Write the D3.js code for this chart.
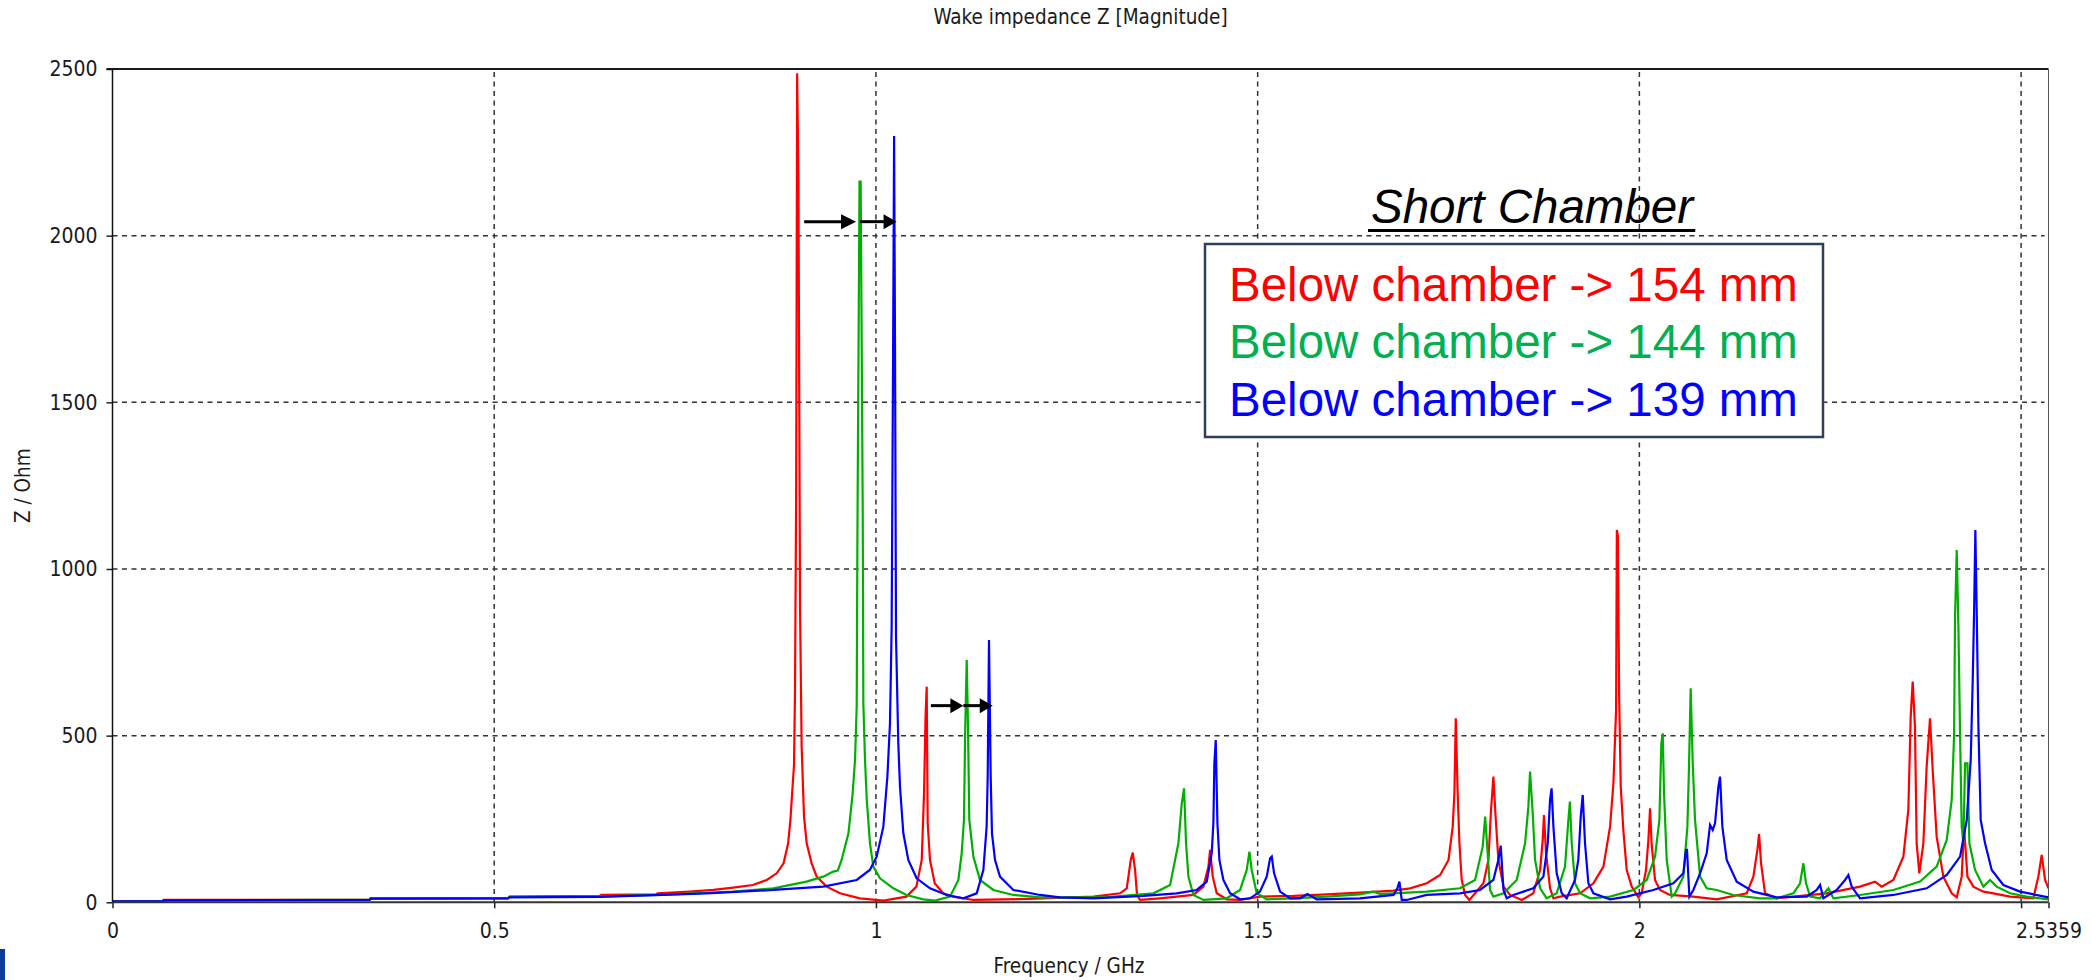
<!DOCTYPE html>
<html>
<head>
<meta charset="utf-8">
<title>Wake impedance Z [Magnitude]</title>
<script src="https://cdn.jsdelivr.net/npm/d3@7.9.0/dist/d3.min.js"></script>
<style>
  html, body { margin: 0; padding: 0; background: #fff; }
  svg { display: block; }
  .tick text, .lbl { font-family: "DejaVu Sans Condensed", "DejaVu Sans", sans-serif; font-size: 21px; fill: #1a1a1a; }
  .lbl.title { font-size: 20.5px; }
  .legend text { font-family: "Liberation Sans", Arial, sans-serif; font-size: 47.5px; }
</style>
</head>
<body>
<svg id="chart" width="2091" height="980"></svg>
<script>
// x ticks (GHz) and y ticks (Ohm)
const xTicks = [0, 0.5, 1, 1.5, 2, 2.5, 2.5359];
const xTickLabels = ['0', '0.5', '1', '1.5', '2', '', '2.5359'];
const yTicks = [0, 500, 1000, 1500, 2000, 2500];

// series: [frequency GHz, |Z| Ohm]
const red154 = [
  [0, 3], [0.066, 3], [0.067, 7], [0.337, 8], [0.338, 12], [0.518, 13], [0.52, 17], [0.638, 19], [0.64, 22],
  [0.712, 24], [0.714, 27], [0.756, 32], [0.787, 37], [0.813, 44], [0.839, 52], [0.857, 67], [0.870, 87],
  [0.879, 117], [0.885, 177], [0.888, 247], [0.8905, 337], [0.8927, 412], [0.894, 637], [0.8955, 1222],
  [0.8968, 2487], [0.8985, 2162], [0.9006, 877], [0.9027, 467], [0.9058, 257], [0.9093, 177], [0.9158, 117],
  [0.9224, 77], [0.9355, 47], [0.953, 27], [0.979, 12], [1.010, 5], [1.040, 17], [1.053, 47], [1.060, 127],
  [1.063, 327], [1.065, 557], [1.0665, 647], [1.0678, 237], [1.0708, 127], [1.077, 57], [1.088, 27],
  [1.101, 17], [1.128, 7], [1.2, 10], [1.285, 17], [1.3198, 27], [1.3285, 42], [1.3338, 127], [1.3364, 149],
  [1.3394, 97], [1.342, 22], [1.346, 7], [1.372, 12], [1.4158, 22], [1.429, 47], [1.4355, 107], [1.4377, 157],
  [1.4412, 77], [1.4464, 27], [1.4595, 9], [1.477, 7], [1.503, 17], [1.547, 19], [1.5905, 24], [1.634, 29],
  [1.678, 35], [1.6996, 42], [1.7215, 57], [1.739, 82], [1.75, 127], [1.7555, 227], [1.7577, 327],
  [1.7595, 552], [1.762, 327], [1.7643, 177], [1.7673, 67], [1.7717, 22], [1.7774, 7], [1.7848, 27],
  [1.7957, 57], [1.8023, 127], [1.8057, 277], [1.8088, 377], [1.8114, 267], [1.8153, 127], [1.822, 47],
  [1.8306, 22], [1.846, 7], [1.861, 27], [1.870, 97], [1.8734, 187], [1.875, 262], [1.8778, 147], [1.883, 42],
  [1.8874, 12], [1.8961, 17], [1.9223, 27], [1.9398, 57], [1.9529, 107], [1.9616, 227], [1.966, 357],
  [1.9695, 577], [1.9705, 1117], [1.9718, 1100], [1.9735, 617], [1.9756, 347], [1.979, 217], [1.9834, 97],
  [1.99, 47], [1.9987, 15], [2.003, 27], [2.0087, 97], [2.0118, 187], [2.014, 282], [2.016, 177], [2.0205, 67],
  [2.027, 37], [2.04, 22], [2.0707, 17], [2.1013, 9], [2.1406, 27], [2.1493, 77], [2.1546, 157], [2.1568, 205],
  [2.1594, 117], [2.1646, 27], [2.1799, 12], [2.2454, 27], [2.289, 47], [2.3087, 62], [2.3174, 47],
  [2.3327, 67], [2.3458, 137], [2.3523, 277], [2.3554, 557], [2.358, 662], [2.361, 527], [2.3632, 177],
  [2.3667, 87], [2.372, 177], [2.3763, 407], [2.3807, 552], [2.3842, 397], [2.3894, 197], [2.3982, 77],
  [2.4091, 27], [2.4157, 15], [2.4222, 77], [2.4253, 227], [2.4297, 77], [2.4375, 47], [2.4506, 32],
  [2.4637, 27], [2.4855, 17], [2.516, 12], [2.5226, 77], [2.527, 142], [2.5314, 67], [2.5359, 42]
];

const green144 = [
  [0, 3], [0.066, 3], [0.067, 6], [0.337, 8], [0.338, 11], [0.518, 12], [0.52, 16], [0.64, 18], [0.72, 22],
  [0.813, 32], [0.8656, 42], [0.909, 62], [0.931, 77], [0.944, 92], [0.950, 95], [0.955, 127], [0.964, 207],
  [0.9695, 327], [0.9726, 427], [0.9748, 587], [0.9757, 1082], [0.9785, 2162], [0.980, 2162], [0.9827, 1172],
  [0.9835, 597], [0.9857, 427], [0.988, 307], [0.9922, 177], [0.9966, 107], [1.0053, 72], [1.0228, 42],
  [1.040, 22], [1.062, 9], [1.0774, 5], [1.097, 17], [1.108, 67], [1.1123, 147], [1.1153, 247], [1.117, 527],
  [1.1189, 727], [1.1206, 527], [1.1223, 247], [1.1276, 137], [1.1363, 67], [1.1538, 37], [1.18, 22],
  [1.215, 15], [1.30, 15], [1.3635, 27], [1.3853, 52], [1.3962, 177], [1.4006, 297], [1.4036, 342],
  [1.4062, 177], [1.4093, 77], [1.4158, 22], [1.429, 7], [1.4595, 12], [1.477, 37], [1.4857, 97],
  [1.4892, 152], [1.4922, 97], [1.4988, 27], [1.512, 9], [1.547, 12], [1.5905, 17], [1.634, 24], [1.6516, 32],
  [1.66, 25], [1.678, 27], [1.7215, 32], [1.765, 42], [1.7848, 67], [1.7948, 167], [1.798, 257], [1.801, 157],
  [1.8044, 37], [1.8088, 17], [1.822, 27], [1.8393, 67], [1.8503, 177], [1.8546, 287], [1.8568, 392],
  [1.8603, 267], [1.8634, 127], [1.870, 42], [1.8786, 12], [1.8917, 27], [1.9026, 107], [1.907, 247],
  [1.909, 302], [1.9114, 177], [1.9157, 57], [1.9223, 27], [1.9354, 12], [1.9616, 17], [1.9922, 37],
  [2.0096, 67], [2.0205, 137], [2.0262, 247], [2.0288, 477], [2.0306, 507], [2.0323, 327], [2.0358, 127],
  [2.0424, 17], [2.0467, 27], [2.0576, 77], [2.0629, 227], [2.065, 407], [2.0672, 642], [2.0699, 417],
  [2.0729, 247], [2.0795, 77], [2.0882, 42], [2.1013, 37], [2.1231, 22], [2.158, 12], [2.1799, 12],
  [2.2017, 27], [2.2105, 57], [2.2148, 117], [2.2183, 57], [2.2236, 17], [2.2367, 12], [2.2476, 42],
  [2.2541, 12], [2.289, 22], [2.3327, 37], [2.3676, 62], [2.3894, 107], [2.4026, 187], [2.4091, 307],
  [2.4122, 497], [2.4135, 857], [2.4157, 1057], [2.4179, 827], [2.4201, 497], [2.4222, 227], [2.4244, 177],
  [2.4266, 417], [2.4297, 417], [2.4323, 177], [2.4397, 97], [2.4506, 47], [2.4593, 67], [2.468, 47],
  [2.4855, 27], [2.5073, 17], [2.5359, 9]
];

const blue139 = [
  [0, 3], [0.066, 3], [0.067, 6], [0.337, 7], [0.338, 11], [0.518, 12], [0.52, 15], [0.64, 16], [0.778, 27],
  [0.8656, 37], [0.931, 47], [0.9748, 67], [0.992, 97], [1.001, 137], [1.0097, 227], [1.015, 377],
  [1.0184, 537], [1.0206, 827], [1.0225, 1662], [1.0238, 2299], [1.0250, 1662], [1.0263, 797], [1.0293, 477],
  [1.0315, 347], [1.0359, 207], [1.0424, 127], [1.0533, 72], [1.0708, 42], [1.0927, 22], [1.1145, 12],
  [1.132, 27], [1.1407, 97], [1.145, 227], [1.1464, 377], [1.1481, 787], [1.1503, 377], [1.152, 207],
  [1.156, 127], [1.1625, 77], [1.18, 37], [1.215, 22], [1.241, 15], [1.285, 12], [1.3504, 19], [1.394, 27],
  [1.4202, 37], [1.4333, 62], [1.4398, 147], [1.442, 237], [1.4433, 417], [1.4451, 487], [1.4473, 237],
  [1.4499, 127], [1.4551, 67], [1.4639, 27], [1.477, 9], [1.4901, 12], [1.503, 32], [1.5119, 77],
  [1.5163, 132], [1.5185, 137], [1.5215, 87], [1.5294, 32], [1.5425, 12], [1.5555, 12], [1.5652, 25],
  [1.5774, 9], [1.634, 12], [1.678, 22], [1.683, 42], [1.6857, 62], [1.6887, 7], [1.6953, 7], [1.7215, 22],
  [1.765, 27], [1.7913, 37], [1.8088, 67], [1.8153, 127], [1.8184, 170], [1.822, 37], [1.8262, 12],
  [1.835, 22], [1.861, 42], [1.8743, 77], [1.88, 177], [1.883, 307], [1.885, 342], [1.8874, 227],
  [1.8917, 87], [1.8983, 27], [1.9048, 12], [1.9157, 67], [1.920, 127], [1.9232, 257], [1.9258, 322],
  [1.9288, 177], [1.9332, 57], [1.9398, 27], [1.9616, 9], [1.9834, 17], [2.0183, 37], [2.0445, 57],
  [2.0576, 87], [2.0611, 157], [2.0624, 157], [2.0655, 17], [2.0707, 37], [2.0795, 87], [2.0882, 147],
  [2.0926, 232], [2.0961, 217], [2.0991, 237], [2.1035, 347], [2.1057, 377], [2.1087, 227], [2.1144, 127],
  [2.1275, 62], [2.1493, 32], [2.1799, 15], [2.2192, 17], [2.2323, 37], [2.2367, 52], [2.2410, 12],
  [2.2585, 37], [2.2694, 67], [2.2738, 82], [2.2781, 47], [2.289, 12], [2.3327, 22], [2.3763, 42],
  [2.4026, 82], [2.4201, 137], [2.4288, 247], [2.434, 427], [2.4366, 662], [2.4384, 867], [2.4401, 1117],
  [2.4419, 867], [2.4441, 527], [2.4471, 247], [2.4528, 177], [2.4615, 97], [2.4768, 52], [2.4986, 32],
  [2.5359, 15]
];

const seriesNames = ['Below chamber -> 154 mm', 'Below chamber -> 144 mm', 'Below chamber -> 139 mm'];
const lineColors = ['#ff0000', '#00b000', '#0000ff'];
const textColors = ['#ff0000', '#00b050', '#0000ff'];

// shift arrows: [from GHz, to GHz, at Ohm]
const arrows = [
  [0.906, 0.974, 2042], [0.979, 1.027, 2042],
  [1.072, 1.1145, 590], [1.1145, 1.153, 590]
];

const svg = d3.select('#chart');
const plotLeft = 112.5, plotRight = 2048.5, plotTop = 69, plotBottom = 902.3;

const x = d3.scaleLinear().domain([0, 2.5359]).range([plotLeft, plotRight]);
const y = d3.scaleLinear().domain([0, 2500]).range([plotBottom, plotTop]);

// grid
const dash = '5,4.5';
svg.append('g')
  .selectAll('line')
  .data(xTicks.filter(d => d > 0 && d < 2.53))
  .join('line')
  .attr('x1', d => x(d)).attr('x2', d => x(d))
  .attr('y1', plotTop + 3).attr('y2', plotBottom)
  .attr('stroke', '#333').attr('stroke-width', 1.5).attr('stroke-dasharray', dash);

svg.append('g')
  .selectAll('line')
  .data(yTicks.filter(d => d > 0 && d < 2500))
  .join('line')
  .attr('x1', plotLeft).attr('x2', plotRight - 4)
  .attr('y1', d => y(d)).attr('y2', d => y(d))
  .attr('stroke', '#333').attr('stroke-width', 1.5).attr('stroke-dasharray', dash);

// axes
const xAxis = d3.axisBottom(x)
  .tickValues(xTicks)
  .tickFormat((d, i) => xTickLabels[i])
  .tickSize(6)
  .tickPadding(15);
const gx = svg.append('g').attr('transform', `translate(0,${plotBottom})`).call(xAxis);

const yAxis = d3.axisLeft(y).tickValues(yTicks).tickFormat(d3.format('d')).tickSize(6).tickPadding(9);
const gy = svg.append('g').attr('transform', `translate(${plotLeft},0)`).call(yAxis);

[gx, gy].forEach(g => {
  g.select('.domain').remove();
  g.selectAll('.tick line').attr('stroke', '#222').attr('stroke-width', 1.5);
  g.selectAll('.tick text').attr('fill', '#1a1a1a');
});

// curves
svg.append('clipPath').attr('id', 'plot-clip')
  .append('rect').attr('x', plotLeft).attr('y', plotTop)
  .attr('width', plotRight - plotLeft).attr('height', plotBottom - plotTop);

const line = d3.line().x(d => x(d[0])).y(d => y(d[1]));
const curves = svg.append('g').attr('clip-path', 'url(#plot-clip)');
[red154, green144, blue139].forEach((s, i) => {
  curves.append('path')
    .datum(s)
    .attr('d', line)
    .attr('fill', 'none')
    .attr('stroke', lineColors[i])
    .attr('stroke-width', 2.2)
    .attr('stroke-linejoin', 'miter');
});

// frame
svg.append('line').attr('x1', plotLeft - 6).attr('x2', plotRight).attr('y1', plotTop).attr('y2', plotTop)
  .attr('stroke', '#1a1a1a').attr('stroke-width', 2);
svg.append('line').attr('x1', plotLeft).attr('x2', plotLeft).attr('y1', plotTop).attr('y2', plotBottom)
  .attr('stroke', '#111').attr('stroke-width', 1.5);
svg.append('line').attr('x1', plotLeft).attr('x2', plotRight).attr('y1', plotBottom).attr('y2', plotBottom)
  .attr('stroke', '#333').attr('stroke-width', 2);
svg.append('line').attr('x1', plotRight).attr('x2', plotRight).attr('y1', plotTop).attr('y2', plotBottom)
  .attr('stroke', '#555').attr('stroke-width', 1);

// titles
svg.append('text').attr('class', 'lbl title')
  .attr('x', (plotLeft + plotRight) / 2).attr('y', 24).attr('text-anchor', 'middle')
  .text('Wake impedance Z [Magnitude]');
svg.append('text').attr('class', 'lbl title')
  .attr('x', 1069).attr('y', 973).attr('text-anchor', 'middle')
  .text('Frequency / GHz');
svg.append('text').attr('class', 'lbl title')
  .attr('transform', `translate(30,${(plotTop + plotBottom) / 2}) rotate(-90)`)
  .attr('text-anchor', 'middle')
  .text('Z / Ohm');

// arrows
const arrowG = svg.append('g');
arrows.forEach(a => {
  const x0 = x(a[0]), x1 = x(a[1]), yy = y(a[2]);
  const len = x1 - x0 > 40 ? 15 : 13;
  arrowG.append('line')
    .attr('x1', x0).attr('x2', x1 - len + 1).attr('y1', yy).attr('y2', yy)
    .attr('stroke', '#000').attr('stroke-width', 3);
  arrowG.append('path')
    .attr('d', `M${x1},${yy} L${x1 - len},${yy - 7.5} L${x1 - len},${yy + 7.5} Z`)
    .attr('fill', '#000');
});

// legend
const legend = svg.append('g').attr('class', 'legend');
const heading = legend.append('text')
  .attr('x', 1371).attr('y', 222.7)
  .attr('font-style', 'italic')
  .attr('fill', '#000')
  .text('Short Chamber');
const hb = heading.node().getBBox();
legend.append('line')
  .attr('x1', hb.x - 3).attr('x2', hb.x + hb.width)
  .attr('y1', 230.5).attr('y2', 230.5)
  .attr('stroke', '#000').attr('stroke-width', 3);

legend.append('rect')
  .attr('x', 1205).attr('y', 244).attr('width', 618).attr('height', 193)
  .attr('fill', '#fff').attr('stroke', '#2e4057').attr('stroke-width', 2.5);

legend.selectAll('text.item')
  .data(seriesNames)
  .join('text')
  .attr('class', 'item')
  .attr('x', 1229)
  .attr('y', (d, i) => 300.7 + i * 57.5)
  .attr('fill', (d, i) => textColors[i])
  .text(d => d);

// slide corner mark
svg.append('rect').attr('x', 0).attr('y', 949).attr('width', 5).attr('height', 31).attr('fill', '#0b3c9b');
</script>
</body>
</html>
